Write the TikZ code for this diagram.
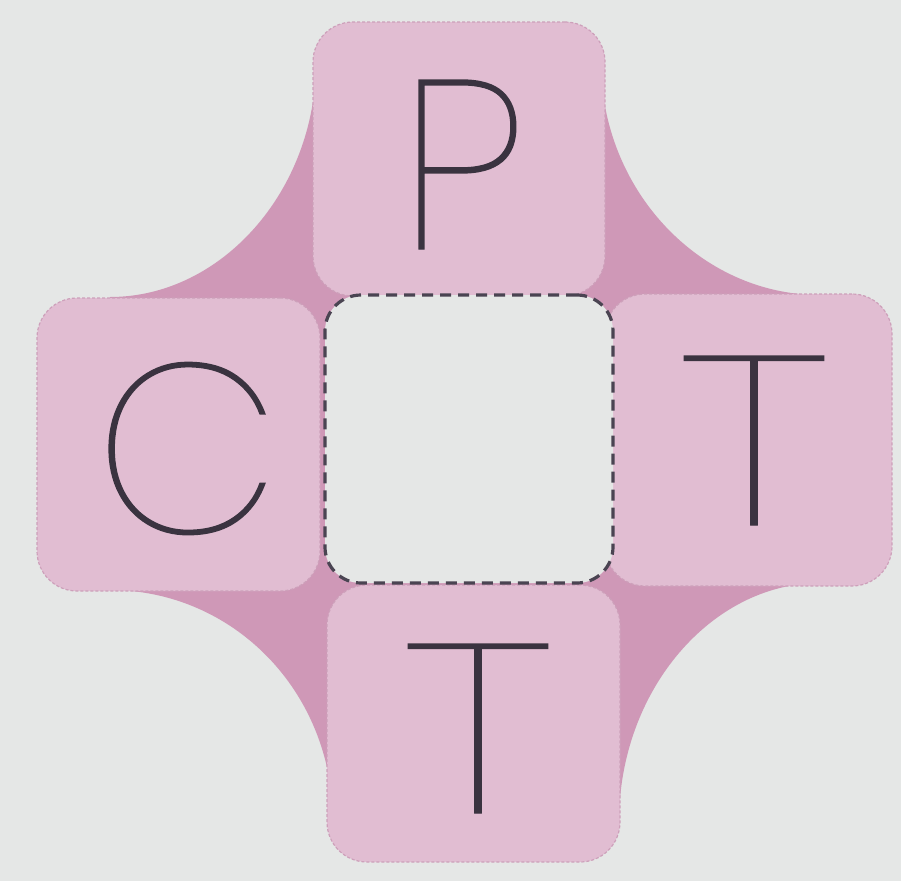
\documentclass[tikz,border=0pt]{standalone}
\usepackage{fontspec}
\IfFontExistsTF{Poppins Thin}{%
  \newfontfamily\letterfont{Poppins Thin}[FakeBold=0.6]%
  \newfontfamily\widefont{Poppins Thin}[FakeBold=0.6,FakeStretch=1.35]}{%
  \newfontfamily\letterfont{DejaVu Sans ExtraLight}%
  \newfontfamily\widefont{DejaVu Sans ExtraLight}}
\definecolor{bgcol}{HTML}{E5E7E6}
\definecolor{darkpink}{HTML}{CF98B7}
\definecolor{lightpink}{HTML}{E1BDD2}
\definecolor{pinkedge}{HTML}{CDA0BA}
\definecolor{inkcol}{HTML}{3A3340}
\definecolor{dashcol}{HTML}{4A4452}
\tikzset{
  pinkbox/.style={draw=pinkedge, fill=lightpink, line width=1.2pt,
    dash pattern=on 3pt off 2pt, rounded corners=40pt, inner sep=0pt},
  centerbox/.style={draw=dashcol, fill=bgcol, line width=3.2pt,
    dash pattern=on 11pt off 7pt, rounded corners=36pt, inner sep=0pt},
  letter/.style={inner sep=0pt, text=inkcol, anchor=base,
    font=\letterfont\fontsize{240}{242}\selectfont},
  wideletter/.style={inner sep=0pt, text=inkcol, anchor=base,
    font=\widefont\fontsize{240}{242}\selectfont}
}
\begin{document}
\begin{tikzpicture}[x=1pt,y=-1pt]
\useasboundingbox (0,0) rectangle (901,881);
\fill[bgcol] (0,0) rectangle (901,881);
% darker pink backdrop with concave corners
\fill[darkpink] (316,62) .. controls (316,190) and (222,297) .. (110,297)
  -- (110,590) .. controls (232,590) and (333,690) .. (333,822)
  -- (619,822) .. controls (619,690) and (712,583) .. (820,583)
  -- (820,295) .. controls (700,295) and (601,190) .. (601,62) -- cycle;
% four pink boxes
\node[pinkbox, minimum width=292pt, minimum height=274pt] (ptop) at (459,159) {};
\node[pinkbox, minimum width=283pt, minimum height=293pt] (cleft) at (178.5,444.5) {};
\node[pinkbox, minimum width=287pt, minimum height=292pt] (tright) at (748.5,440) {};
\node[pinkbox, minimum width=293pt, minimum height=277pt] (tbottom) at (473.5,723.5) {};
% centre dashed box
\node[centerbox, minimum width=288pt, minimum height=288pt] (mid) at (469,439) {};
% letters
\node[letter] (lp) at (462,249) {P};
\node[letter] (lc) at (187,533) {C};
\node[wideletter] (lt1) at (754,525) {T};
\node[wideletter] (lt2) at (478,813) {T};
\end{tikzpicture}
\end{document}
